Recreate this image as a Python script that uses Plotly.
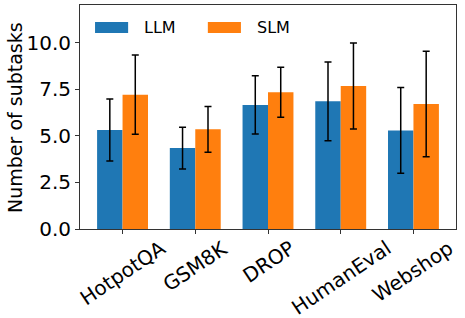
import plotly.graph_objects as go

categories = ["HotpotQA", "GSM8K", "DROP", "HumanEval", "Webshop"]
llm_mean = [5.32, 4.35, 6.67, 6.86, 5.30]
llm_err = [1.67, 1.12, 1.57, 2.11, 2.31]
slm_mean = [7.22, 5.36, 7.35, 7.69, 6.72]
slm_err = [2.13, 1.23, 1.34, 2.31, 2.83]
series_names = ["LLM", "SLM"]
series_colors = ["#1f77b4", "#ff7f0e"]
y_ticks = [0, 2.5, 5, 7.5, 10]
y_tick_labels = ["0.0", "2.5", "5.0", "7.5", "10.0"]

FONT = "DejaVu Sans"

fig = go.Figure()
for name, color, mean, err in zip(series_names, series_colors, [llm_mean, slm_mean], [llm_err, slm_err]):
    fig.add_trace(go.Bar(
        name=name, x=categories, y=mean,
        marker=dict(color=color, line=dict(width=0)),
        error_y=dict(type="data", array=err, color="black", thickness=1.5, width=3.5),
        showlegend=False,
    ))

# custom legend (wide patches like matplotlib)
legend_patch_x = [(0.040, 0.128), (0.340, 0.428)]
legend_text_x = [0.165, 0.465]
for (x0, x1), tx, name, color in zip(legend_patch_x, legend_text_x, series_names, series_colors):
    fig.add_shape(type="rect", xref="paper", yref="paper", x0=x0, x1=x1, y0=0.875, y1=0.924,
                  fillcolor=color, line=dict(width=0))
    fig.add_annotation(xref="paper", yref="paper", x=tx, y=0.9, text=name, showarrow=False,
                       xanchor="left", yanchor="middle", font=dict(size=16, family=FONT, color="black"))

# rotated, centred category labels
for cat in categories:
    fig.add_annotation(xref="x", yref="paper", x=cat, y=0, text=cat, textangle=-34,
                       showarrow=False, xanchor="center", yanchor="top", yshift=-4,
                       font=dict(size=20, family=FONT, color="black"))

fig.add_annotation(xref="paper", yref="paper", x=-0.173, y=0.5, text="Number of subtasks",
                   textangle=-90, showarrow=False, xanchor="center", yanchor="middle",
                   font=dict(size=19, family=FONT, color="black"))

fig.update_layout(
    width=465, height=318,
    margin=dict(l=80, r=9, t=5, b=89, autoexpand=False),
    barmode="group", bargap=0.3, bargroupgap=0,
    plot_bgcolor="white", paper_bgcolor="white",
    font=dict(family=FONT, size=20, color="black"),
    showlegend=False,
    xaxis=dict(
        type="category", range=[-0.585, 4.585], automargin=False,
        showticklabels=False, ticks="outside", ticklen=4, tickwidth=1, tickcolor="#333",
        showline=True, linecolor="#333", linewidth=1, mirror=True,
    ),
    yaxis=dict(
        range=[0, 12.04], tickvals=y_ticks, ticktext=y_tick_labels, automargin=False,
        ticks="outside", ticklen=4, tickwidth=1, tickcolor="#333",
        showline=True, linecolor="#333", linewidth=1, mirror=True,
        showgrid=False, zeroline=False,
        tickfont=dict(size=20, family=FONT),
    ),
)

fig.write_html("out.html", config={"displayModeBar": False},
               post_script="document.body.style.margin='0px';")
